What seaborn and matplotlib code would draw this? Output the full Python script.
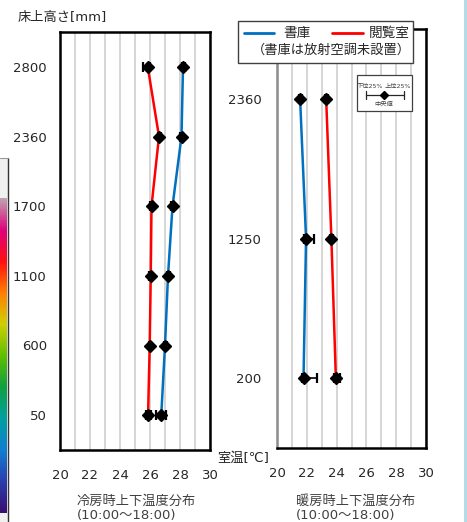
import numpy as np
import pandas as pd
import matplotlib
matplotlib.use("Agg")
import matplotlib.pyplot as plt
from matplotlib.patches import Rectangle
from matplotlib.lines import Line2D
from matplotlib.colors import LinearSegmentedColormap
from matplotlib.ticker import MultipleLocator
import seaborn as sns

# ---------------- data ----------------
cool_heights = ["2800", "2360", "1700", "1100", "600", "50"]
cool_shoko_med = [28.2, 28.1, 27.5, 27.2, 27.0, 26.75]
cool_shoko_q1 = [28.1, 28.0, 27.4, 27.1, 26.9, 26.4]
cool_shoko_q3 = [28.3, 28.2, 27.6, 27.3, 27.1, 27.05]
cool_etsu_med = [25.85, 26.6, 26.1, 26.05, 25.98, 25.87]
cool_etsu_q1 = [25.55, 26.5, 26.0, 25.95, 25.9, 25.75]
cool_etsu_q3 = [26.0, 26.7, 26.2, 26.15, 26.05, 26.05]

heat_heights = ["2360", "1250", "200"]
heat_shoko_med = [21.55, 21.95, 21.78]
heat_shoko_q1 = [21.45, 21.8, 21.7]
heat_shoko_q3 = [21.65, 22.5, 22.7]
heat_etsu_med = [23.3, 23.65, 23.95]
heat_etsu_q1 = [23.2, 23.55, 23.8]
heat_etsu_q3 = [23.4, 23.75, 24.2]

rooms = ["書庫", "閲覧室"]
xticks = [20, 22, 24, 26, 28, 30]
palette = {"書庫": "#0070C0", "閲覧室": "#FF0000"}

# ---------------- style ----------------
sns.set_theme(style="white")
plt.rcParams["font.family"] = ["DejaVu Sans", "Noto Sans CJK JP"]
plt.rcParams["axes.unicode_minus"] = False

W, H = 467, 522
fig = plt.figure(figsize=(W / 100, H / 100), dpi=100)
fig.patch.set_facecolor("white")


def fx(x):
    return x / W


def fy(y):
    return 1 - y / H


def build_df(heights, s_med, e_med):
    n = len(heights)
    pos = list(range(n - 1, -1, -1))
    return pd.DataFrame({
        "pos": pos + pos,
        "temp": list(s_med) + list(e_med),
        "room": [rooms[0]] * n + [rooms[1]] * n,
    })


def draw_panel(ax, heights, s_med, s_q1, s_q3, e_med, e_q1, e_q3, ypad, left_spine_color):
    df = build_df(heights, s_med, e_med)
    sns.lineplot(data=df, x="temp", y="pos", hue="room", palette=palette,
                 sort=False, orient="y", estimator=None, legend=False,
                 linewidth=1.8, ax=ax, zorder=2)
    n = len(heights)
    pos = np.arange(n - 1, -1, -1)
    for med, q1, q3 in ((s_med, s_q1, s_q3), (e_med, e_q1, e_q3)):
        med = np.array(med); q1 = np.array(q1); q3 = np.array(q3)
        ax.errorbar(med, pos, xerr=[med - q1, q3 - med], fmt="D", color="black",
                    ms=6, capsize=3.5, elinewidth=1.2, capthick=1.6, zorder=3)
    ax.set_xlim(20, 30)
    ax.set_ylim(-0.5, n - 0.5)
    ax.set_xticks(xticks)
    ax.xaxis.set_minor_locator(MultipleLocator(1))
    ax.grid(True, axis="x", which="both", color="#d0d0d0", linewidth=1.2)
    ax.set_axisbelow(True)
    ax.set_yticks(pos)
    ax.set_yticklabels(heights)
    ax.set_xlabel("")
    ax.set_ylabel("")
    ax.tick_params(axis="x", which="both", length=0, pad=13.5, labelsize=9.5, labelcolor="#262626")
    ax.tick_params(axis="y", length=0, pad=ypad, labelsize=9.5, labelcolor="#262626")
    for s in ax.spines.values():
        s.set_color("black")
        s.set_linewidth(1.8)
    ax.spines["left"].set_color(left_spine_color)


axL = fig.add_axes([fx(60), fy(450), fx(150), (450 - 32) / H])
draw_panel(axL, cool_heights, cool_shoko_med, cool_shoko_q1, cool_shoko_q3,
           cool_etsu_med, cool_etsu_q1, cool_etsu_q3, 9.5, "black")

axR = fig.add_axes([fx(277), fy(448), fx(149), (448 - 29) / H])
draw_panel(axR, heat_heights, heat_shoko_med, heat_shoko_q1, heat_shoko_q3,
           heat_etsu_med, heat_etsu_q1, heat_etsu_q3, 11, "#8c8c8c")

# ---------------- texts ----------------
fig.text(fx(18), fy(18), "床上高さ[mm]", fontsize=9.5, color="#262626", va="center", ha="left")
fig.text(fx(243), fy(458), "室温[℃]", fontsize=9.5, color="#262626", va="center", ha="center")
fig.text(fx(77), fy(508), "冷房時上下温度分布\n(10:00～18:00)", fontsize=9.5, color="#404040",
         va="center", ha="left", linespacing=1.1)
fig.text(fx(296), fy(508), "暖房時上下温度分布\n(10:00～18:00)", fontsize=9.5, color="#404040",
         va="center", ha="left", linespacing=1.1)

# ---------------- legend box ----------------
fig.add_artist(Rectangle((fx(238), fy(63)), fx(175), (63 - 21) / H, transform=fig.transFigure,
                         facecolor="white", edgecolor="#404040", linewidth=1.0, zorder=10))
fig.add_artist(Line2D([fx(244), fx(274)], [fy(33), fy(33)], transform=fig.transFigure,
                      color=palette["書庫"], linewidth=2, zorder=11))
fig.text(fx(283), fy(33), "書庫", fontsize=9.8, color="#262626", va="center", ha="left", zorder=11)
fig.add_artist(Line2D([fx(332), fx(363)], [fy(33), fy(33)], transform=fig.transFigure,
                      color=palette["閲覧室"], linewidth=2, zorder=11))
fig.text(fx(369), fy(33), "閲覧室", fontsize=9.8, color="#262626", va="center", ha="left", zorder=11)
fig.text(fx(331), fy(50), "（書庫は放射空調未設置）", fontsize=9.5, color="#262626",
         va="center", ha="center", zorder=11)

# small explanation box
fig.add_artist(Rectangle((fx(357), fy(111)), fx(55), (111 - 75) / H, transform=fig.transFigure,
                         facecolor="white", edgecolor="#404040", linewidth=0.9, zorder=10))
fig.add_artist(Line2D([fx(366), fx(404)], [fy(95), fy(95)], transform=fig.transFigure,
                      color="#262626", linewidth=0.9, zorder=11))
for xx in (366, 404):
    fig.add_artist(Line2D([fx(xx), fx(xx)], [fy(91), fy(99)], transform=fig.transFigure,
                          color="#262626", linewidth=0.9, zorder=11))
fig.add_artist(Line2D([fx(384)], [fy(95)], transform=fig.transFigure, marker="D", ms=4,
                      color="black", zorder=12))
fig.text(fx(370), fy(86), "下位25%", fontsize=4.5, color="#404040", va="center", ha="center", zorder=11)
fig.text(fx(398), fy(86), "上位25%", fontsize=4.5, color="#404040", va="center", ha="center", zorder=11)
fig.text(fx(384), fy(104), "中央値", fontsize=4.5, color="#404040", va="center", ha="center", zorder=11)

# ---------------- edge decorations from the source page ----------------
fig.add_artist(Rectangle((0, 0), fx(8), fy(158), transform=fig.transFigure,
                         facecolor="#f0f0f0", edgecolor="none", zorder=1))
fig.add_artist(Line2D([fx(8), fx(8)], [0, fy(158)], transform=fig.transFigure,
                      color="#333333", linewidth=1.0, zorder=3))
fig.add_artist(Line2D([0, fx(8)], [fy(158), fy(158)], transform=fig.transFigure,
                      color="#999999", linewidth=0.8, zorder=3))
cb = fig.add_axes([0, fy(513), fx(7), (513 - 198) / H])
cb.set_zorder(2)
cmap = LinearSegmentedColormap.from_list("rb", ["#3a1070", "#2a3fb0", "#1080d0", "#00a0a0", "#10a040",
                                                "#60c000", "#d0d000", "#ff8000", "#ff1010", "#e0007a",
                                                "#c0a0b0"])
cb.imshow(np.linspace(0, 1, 200)[:, None], aspect="auto", cmap=cmap, origin="lower")
cb.set_axis_off()
fig.add_artist(Rectangle((fx(464), 0), fx(3), 1, transform=fig.transFigure,
                         facecolor="#b5dce6", edgecolor="none", zorder=1))

fig.savefig("out.png", dpi=100)
